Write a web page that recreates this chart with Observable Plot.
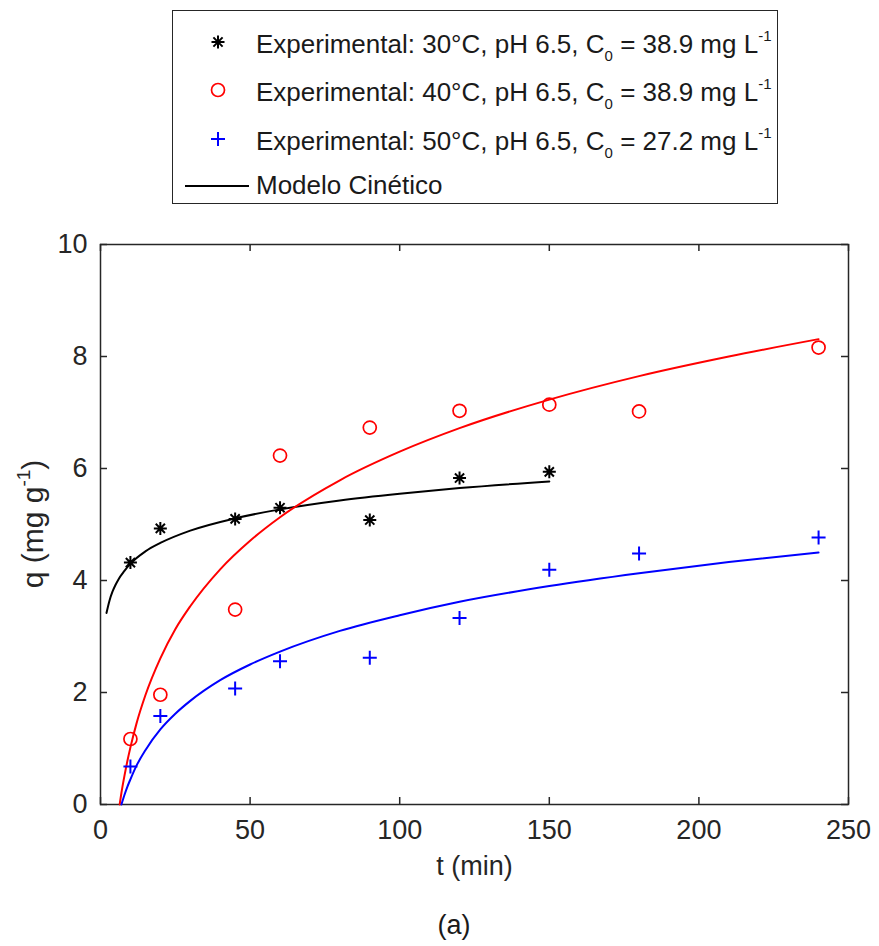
<!DOCTYPE html>
<html>
<head>
<meta charset="utf-8">
<script src="https://cdn.jsdelivr.net/npm/d3@7"></script>
<script src="https://cdn.jsdelivr.net/npm/@observablehq/plot@0.6"></script>
<style>
  body { margin: 0; background: #fff; font-family: "Liberation Sans", Arial, sans-serif; color: #262626; }
  #wrap { position: relative; width: 879px; height: 946px; }
  #legend { position: absolute; left: 172px; top: 10px; width: 606px; height: 194px; border: 1.5px solid #262626; background: #fff; box-sizing: border-box; }
  .row { position: absolute; left: 83px; font-size: 26px; line-height: 1; white-space: nowrap; color: #1a1a1a; }
  .row sub { font-size: 15px; vertical-align: -8px; }
  .row sup { font-size: 15px; vertical-align: 12px; }
  .icon { position: absolute; }
  #chart { position: absolute; left: 0; top: 220px; }
  #caption { position: absolute; top: 910px; left: 454px; transform: translateX(-50%); font-size: 27px; color: #1a1a1a; }
</style>
</head>
<body>
<div id="wrap">
  <div id="legend"></div>
  <div id="chart"></div>
  <div id="caption">(a)</div>
</div>
<script>
// ---- data ----
const tExp30 = [10, 20, 45, 60, 90, 120, 150];
const qExp30 = [4.32, 4.93, 5.10, 5.30, 5.08, 5.83, 5.94];
const tExp40 = [10, 20, 45, 60, 90, 120, 150, 180, 240];
const qExp40 = [1.17, 1.96, 3.48, 6.23, 6.73, 7.03, 7.14, 7.02, 8.16];
const tExp50 = [10, 20, 45, 60, 90, 120, 150, 180, 240];
const qExp50 = [0.68, 1.58, 2.07, 2.56, 2.62, 3.33, 4.19, 4.48, 4.77];

const tMod30 = [2, 3, 4, 5, 6, 8, 10, 15, 20, 30, 45, 60, 80, 100, 120, 150];
const qMod30 = [3.42, 3.64, 3.80, 3.92, 4.02, 4.17, 4.30, 4.52, 4.67, 4.89, 5.11, 5.27, 5.43, 5.55, 5.65, 5.77];
const tMod40 = [6.4, 7, 8, 9, 10, 12, 15, 20, 25, 30, 40, 50, 60, 80, 100, 120, 150, 180, 210, 240];
const qMod40 = [0, 0.21, 0.51, 0.78, 1.02, 1.44, 1.95, 2.61, 3.13, 3.54, 4.20, 4.71, 5.13, 5.79, 6.30, 6.72, 7.23, 7.65, 8.00, 8.31];
const tMod50 = [7, 8, 9, 10, 12, 15, 20, 25, 30, 40, 50, 60, 80, 100, 120, 150, 180, 210, 240];
const qMod50 = [0, 0.17, 0.32, 0.45, 0.69, 0.97, 1.34, 1.62, 1.85, 2.22, 2.50, 2.73, 3.10, 3.38, 3.62, 3.90, 4.13, 4.33, 4.50];

const xTicks = [0, 50, 100, 150, 200, 250];
const yTicks = [0, 2, 4, 6, 8, 10];

const seriesLabels = [
  {temp: "30°C", c0: "38.9"},
  {temp: "40°C", c0: "38.9"},
  {temp: "50°C", c0: "27.2"}
];
const modelLabel = "Modelo Cinético";
const xLabel = "t (min)";
const yLabelMain = "q (mg g";
const yLabelSup = "-1";

// ---- tables ----
const zip = (ts, qs) => ts.map((t, i) => ({t, q: qs[i]}));
const exp30 = zip(tExp30, qExp30), exp40 = zip(tExp40, qExp40), exp50 = zip(tExp50, qExp50);
const mod30 = zip(tMod30, qMod30), mod40 = zip(tMod40, qMod40), mod50 = zip(tMod50, qMod50);

// ---- custom symbols ----
const star8 = {draw(ctx, size) {
  const r = Math.sqrt(size / Math.PI), d = r * Math.SQRT1_2;
  ctx.moveTo(-r, 0); ctx.lineTo(r, 0);
  ctx.moveTo(0, -r); ctx.lineTo(0, r);
  ctx.moveTo(-d, -d); ctx.lineTo(d, d);
  ctx.moveTo(-d, d); ctx.lineTo(d, -d);
}};
const plusSym = {draw(ctx, size) {
  const r = Math.sqrt(size / Math.PI);
  ctx.moveTo(-r, 0); ctx.lineTo(r, 0);
  ctx.moveTo(0, -r); ctx.lineTo(0, r);
}};

const axisColor = "#262626";
const fontSize = 27;
const W = 879, H = 670, mL = 100, mR = 31, mT = 24, mB = 86;
const plotW = W - mL - mR, plotH = H - mT - mB, tickLen = 7;

const chart = Plot.plot({
  width: W,
  height: H,
  marginLeft: mL,
  marginRight: mR,
  marginTop: mT,
  marginBottom: mB,
  style: {fontFamily: "Liberation Sans, Arial, sans-serif", fontSize: fontSize + "px", color: axisColor, background: "#fff"},
  x: {domain: [0, 250], ticks: xTicks},
  y: {domain: [0, 10], ticks: yTicks},
  marks: [
    Plot.frame({stroke: axisColor, strokeWidth: 1.5}),
    Plot.axisX(xTicks, {anchor: "bottom", tickSize: 0, tickPadding: 15, tickFormat: d3.format("d"), label: null, fontSize: fontSize, fill: axisColor}),
    Plot.axisY(yTicks, {anchor: "left", tickSize: 0, tickPadding: 13, tickFormat: d3.format("d"), label: null, fontSize: fontSize, fill: axisColor}),
    // inward ticks on all four sides
    Plot.ruleX(xTicks, {x: d => d, insetTop: plotH - tickLen, stroke: axisColor, strokeWidth: 1.5}),
    Plot.ruleX(xTicks, {x: d => d, insetBottom: plotH - tickLen, stroke: axisColor, strokeWidth: 1.5}),
    Plot.ruleY(yTicks, {y: d => d, insetRight: plotW - tickLen, stroke: axisColor, strokeWidth: 1.5}),
    Plot.ruleY(yTicks, {y: d => d, insetLeft: plotW - tickLen, stroke: axisColor, strokeWidth: 1.5}),
    Plot.line(mod30, {x: "t", y: "q", stroke: "#000", strokeWidth: 2, curve: "monotone-x"}),
    Plot.line(mod40, {x: "t", y: "q", stroke: "#ff0000", strokeWidth: 2, curve: "monotone-x"}),
    Plot.line(mod50, {x: "t", y: "q", stroke: "#0000ff", strokeWidth: 2, curve: "monotone-x"}),
    Plot.dot(exp30, {x: "t", y: "q", symbol: star8, r: 6.5, fill: "none", stroke: "#000", strokeWidth: 2}),
    Plot.dot(exp40, {x: "t", y: "q", symbol: "circle", r: 6.5, fill: "none", stroke: "#ff0000", strokeWidth: 1.7}),
    Plot.dot(exp50, {x: "t", y: "q", symbol: plusSym, r: 7, fill: "none", stroke: "#0000ff", strokeWidth: 2}),
    Plot.text([xLabel], {frameAnchor: "bottom", dy: 70, fontSize: fontSize, fill: axisColor})
  ]
});
document.getElementById("chart").appendChild(chart);

// y axis label with superscript
const yl = d3.select(chart).append("text")
  .attr("transform", `translate(43,${mT + plotH / 2}) rotate(-90)`)
  .attr("text-anchor", "middle")
  .attr("font-size", 30)
  .attr("fill", axisColor);
yl.append("tspan").text(yLabelMain);
yl.append("tspan").attr("font-size", 19).attr("dy", "-0.7em").text(yLabelSup);
yl.append("tspan").attr("dy", "0.45em").text(")");

// ---- legend ----
const legend = document.getElementById("legend");
const rowsTop = [17, 65, 114, 161];
const iconSvg = [
  `<svg width="20" height="20" viewBox="-10 -10 20 20"><path d="M-6.5,0L6.5,0M0,-6.5L0,6.5M-4.6,-4.6L4.6,4.6M-4.6,4.6L4.6,-4.6" stroke="#000" stroke-width="2" fill="none"/></svg>`,
  `<svg width="20" height="20" viewBox="-10 -10 20 20"><circle r="6.5" stroke="#ff0000" stroke-width="1.7" fill="none"/></svg>`,
  `<svg width="20" height="20" viewBox="-10 -10 20 20"><path d="M-7,0L7,0M0,-7L0,7" stroke="#0000ff" stroke-width="2" fill="none"/></svg>`
];
seriesLabels.forEach((s, i) => {
  const ic = document.createElement("div");
  ic.className = "icon";
  ic.style.left = "35px";
  ic.style.top = (rowsTop[i] + 4) + "px";
  ic.innerHTML = iconSvg[i];
  legend.appendChild(ic);
  const r = document.createElement("div");
  r.className = "row";
  r.style.top = rowsTop[i] + "px";
  r.innerHTML = `Experimental: ${s.temp}, pH 6.5, C<sub>0</sub> = ${s.c0} mg L<sup>-1</sup>`;
  legend.appendChild(r);
});
{
  const ic = document.createElement("div");
  ic.className = "icon";
  ic.style.left = "12px";
  ic.style.top = (rowsTop[3] + 4) + "px";
  ic.innerHTML = `<svg width="66" height="20"><line x1="0" y1="10" x2="64" y2="10" stroke="#000" stroke-width="2"/></svg>`;
  legend.appendChild(ic);
  const r = document.createElement("div");
  r.className = "row";
  r.style.top = rowsTop[3] + "px";
  r.textContent = modelLabel;
  legend.appendChild(r);
}
</script>
</body>
</html>
